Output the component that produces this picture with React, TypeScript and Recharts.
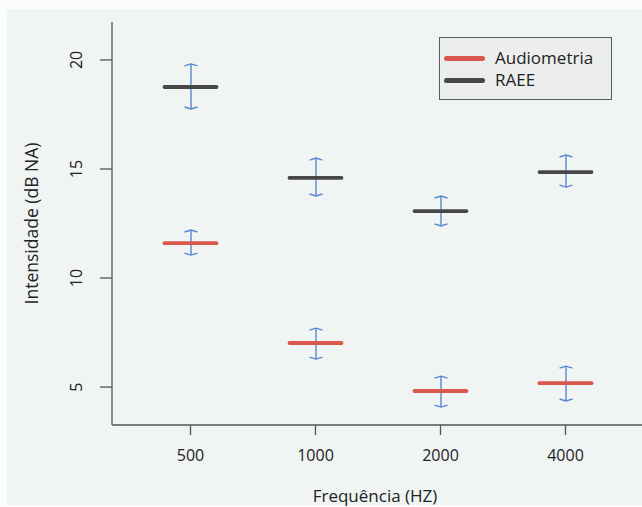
import { ComposedChart, Bar, Scatter, XAxis, YAxis, Legend } from 'recharts';

// frequencies on the x axis
const frequencies = ['500', '1000', '2000', '4000'];

// Audiometria: mean and error range
const audioMean = [11.6, 7.02, 4.82, 5.18];
const audioLow = [11.05, 6.28, 4.08, 4.36];
const audioHigh = [12.2, 7.7, 5.5, 5.96];

// RAEE: mean and error range
const raeeMean = [18.76, 14.59, 13.07, 14.86];
const raeeLow = [17.75, 13.76, 12.39, 14.17];
const raeeHigh = [19.82, 15.5, 13.76, 15.64];

const yTicks = [5, 10, 15, 20];
const yDomain: [number, number] = [3.26, 21.74];

const data = frequencies.map((f, i) => ({
  freq: f,
  audio: audioMean[i],
  raee: raeeMean[i],
  audioRange: [audioLow[i], audioHigh[i]],
  raeeRange: [raeeLow[i], raeeHigh[i]],
}));

const RED = '#d9574c';
const DARK = '#474747';
const BLUE = '#5a86d0';
const AXIS = '#555';
const TEXT = '#222';
const FONT = '"Open Sans", sans-serif';

const meanLine = (color: string) => (props: any) => {
  const { cx, cy } = props;
  if (cx == null || cy == null) return <g />;
  return (
    <line x1={cx - 26} x2={cx + 26} y1={cy} y2={cy}
      stroke={color} strokeWidth={3.8} strokeLinecap="round" />
  );
};

const ErrorShape = (props: any) => {
  const { x, y, width, height } = props;
  if (x == null || y == null) return <g />;
  const cx = x + width / 2;
  const top = y;
  const bot = y + height;
  return (
    <g stroke={BLUE} strokeWidth={1.4} fill="none">
      <line x1={cx} x2={cx} y1={top} y2={bot} />
      <path d={`M${cx - 6.5},${top + 2}L${cx},${top}L${cx + 6.5},${top + 2}`} />
      <path d={`M${cx - 6.5},${bot - 2}L${cx},${bot}L${cx + 6.5},${bot - 2}`} />
    </g>
  );
};

const YTick = (props: any) => {
  const { x, y, payload } = props;
  return (
    <text x={x} y={y} transform={`rotate(-90 ${x} ${y})`} textAnchor="middle"
      fontSize={16} fill={TEXT} fontFamily={FONT}>
      {payload.value}
    </text>
  );
};

const LegendBox = () => (
  <div style={{
    width: 171, height: 61, border: '1.5px solid #5a5a5a', background: '#ebeeed',
    fontFamily: FONT, fontSize: 17, color: TEXT, boxSizing: 'content-box',
  }}>
    {[{ name: 'Audiometria', color: RED }, { name: 'RAEE', color: DARK }].map((it, i) => (
      <div key={it.name} style={{ display: 'flex', alignItems: 'center', height: 22, marginTop: i === 0 ? 9 : 0 }}>
        <div style={{ width: 41, height: 5, borderRadius: 3, background: it.color, marginLeft: 4, marginRight: 10 }} />
        <span style={{ lineHeight: '22px' }}>{it.name}</span>
      </div>
    ))}
  </div>
);

export default function App() {
  return (
    <div style={{ position: 'absolute', left: 0, top: 0, width: 642, height: 507, background: '#fbfcfc', overflow: 'hidden' }}>
      <div style={{ position: 'absolute', left: 7, top: 9, right: 0, bottom: 2, background: '#f0f4f3' }} />
      <div style={{ position: 'absolute', left: 0, top: 0 }}>
        <ComposedChart width={642} height={507} data={data}
          margin={{ top: 22, right: 0, bottom: 12, left: 12 }} barGap={-14}>
          <XAxis dataKey="freq" type="category" height={70} padding={{ left: 16, right: 14 }}
            tickSize={10} tickMargin={15} axisLine={{ stroke: AXIS, strokeWidth: 1.3 }}
            tickLine={{ stroke: AXIS, strokeWidth: 1.3 }}
            tick={{ fontSize: 16, fill: TEXT, fontFamily: FONT }}
            label={{
              content: (p: any) => {
                const vb = p.viewBox;
                return (
                  <text x={vb.x + vb.width / 2 - 2} y={vb.y + 77} textAnchor="middle"
                    fontSize={17} fill={TEXT} fontFamily={FONT}>Frequência (HZ)</text>
                );
              },
            }} />
          <XAxis xAxisId="top" dataKey="freq" orientation="top" height={0} tick={false}
            tickLine={false} axisLine={{ stroke: AXIS, strokeWidth: 1.3 }} />
          <YAxis type="number" domain={yDomain} ticks={yTicks} allowDataOverflow width={100}
            tickSize={12} tickMargin={18} axisLine={{ stroke: AXIS, strokeWidth: 1.3 }}
            tickLine={{ stroke: AXIS, strokeWidth: 1.3 }} tick={<YTick />}
            label={{
              content: (p: any) => {
                const vb = p.viewBox;
                const cx = 38;
                const cy = vb.y + vb.height / 2;
                return (
                  <text x={cx} y={cy} transform={`rotate(-90 ${cx} ${cy})`} textAnchor="middle"
                    fontSize={17.5} fill={TEXT} fontFamily={FONT}>Intensidade (dB NA)</text>
                );
              },
            }} />
          <Legend layout="vertical" align="center" verticalAlign="middle"
            wrapperStyle={{ left: 439, top: 37, width: 174 }} content={<LegendBox />} />
          <Scatter dataKey="raee" shape={meanLine(DARK)} isAnimationActive={false} />
          <Scatter dataKey="audio" shape={meanLine(RED)} isAnimationActive={false} />
          <Bar dataKey="raeeRange" barSize={14} shape={<ErrorShape />} isAnimationActive={false} />
          <Bar dataKey="audioRange" barSize={14} shape={<ErrorShape />} isAnimationActive={false} />
        </ComposedChart>
      </div>
    </div>
  );
}
